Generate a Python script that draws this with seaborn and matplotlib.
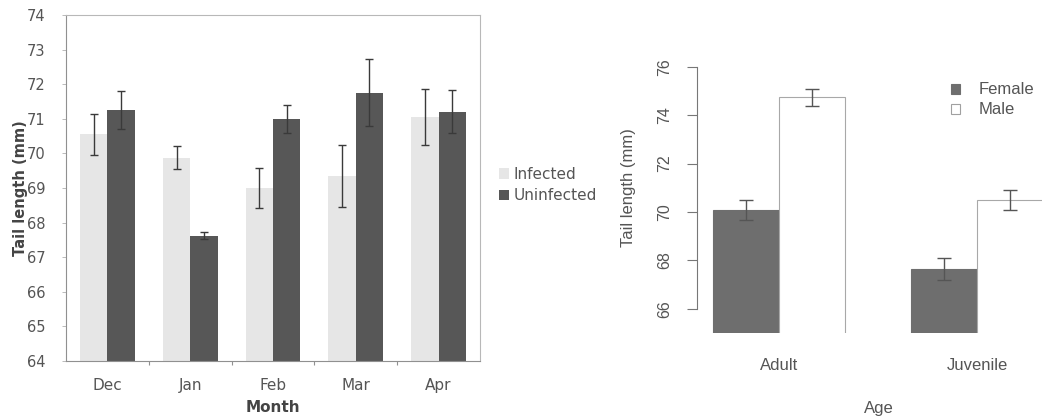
import matplotlib
matplotlib.use("Agg")
import matplotlib.pyplot as plt
import seaborn as sns
import pandas as pd
from matplotlib.patches import Patch

# ---- data: tail length by month and infection status ----
months = ["Dec", "Jan", "Feb", "Mar", "Apr"]
infected_mean = [70.55, 69.87, 69.00, 69.35, 71.05]
infected_err = [0.60, 0.33, 0.57, 0.90, 0.80]
uninfected_mean = [71.25, 67.62, 71.00, 71.75, 71.20]
uninfected_err = [0.55, 0.10, 0.40, 0.97, 0.62]
status_levels = ["Infected", "Uninfected"]

# ---- data: tail length by age and sex ----
ages = ["Adult", "Juvenile"]
female_mean = [70.08, 67.64]
female_err = [0.43, 0.44]
male_mean = [74.74, 70.49]
male_err = [0.35, 0.41]
sex_levels = ["Female", "Male"]

month_df = pd.DataFrame({
    "Month": months * 2,
    "Status": [status_levels[0]] * len(months) + [status_levels[1]] * len(months),
    "Tail": infected_mean + uninfected_mean,
    "Err": infected_err + uninfected_err,
})
age_df = pd.DataFrame({
    "Age": ages * 2,
    "Sex": [sex_levels[0]] * len(ages) + [sex_levels[1]] * len(ages),
    "Tail": female_mean + male_mean,
    "Err": female_err + male_err,
})

W, H = 1042, 416
sns.set_style("white")
fig = plt.figure(figsize=(W / 100, H / 100), dpi=100)


def px_axes(left, top, right, bottom):
    return fig.add_axes([left / W, 1 - bottom / H, (right - left) / W, (bottom - top) / H])


def add_errorbars(ax, df, hue_col, hue_levels, color, capsize):
    for container, level in zip(ax.containers, hue_levels):
        errs = df.loc[df[hue_col] == level, "Err"].tolist()
        xs = [b.get_x() + b.get_width() / 2 for b in container]
        ys = [b.get_height() for b in container]
        ax.errorbar(xs, ys, yerr=errs, fmt="none", ecolor=color,
                    elinewidth=1.0, capsize=capsize, capthick=1.0, zorder=5)


# ================= left panel (months) =================
axL = px_axes(66, 15, 480, 361)
month_colors = {"Infected": "#e6e6e6", "Uninfected": "#575757"}
sns.barplot(data=month_df, x="Month", y="Tail", hue="Status", order=months,
            hue_order=status_levels, palette=month_colors, width=0.66,
            errorbar=None, linewidth=0, legend=False, ax=axL)
add_errorbars(axL, month_df, "Status", status_levels, "#3a3a3a", 3.2)

axL.set_ylim(64, 74)
axL.set_xlim(-0.5, len(months) - 0.5)
axL.set_yticks(range(64, 75))
for s in axL.spines.values():
    s.set_visible(True)
    s.set_color("#b8b8b8")
    s.set_linewidth(0.8)
axL.spines["bottom"].set_color("#909090")
axL.spines["left"].set_color("#909090")
axL.tick_params(axis="y", left=True, length=3, width=0.6, color="#b0b0b0",
                direction="out", pad=12, labelsize=10.5, labelcolor="#555555")
axL.tick_params(axis="x", which="major", bottom=False, length=0, pad=12,
                labelsize=11, labelcolor="#555555")
axL.set_xticks([i + 0.5 for i in range(len(months) - 1)], minor=True)
axL.tick_params(axis="x", which="minor", bottom=True, length=3, width=0.8,
                color="#909090", direction="out")
axL.set_xlabel("Month", fontsize=11, fontweight="bold", color="#444444")
axL.xaxis.set_label_coords(0.5, -(407 - 361) / 346)
axL.xaxis.label.set_verticalalignment("center")
axL.set_ylabel("Tail length (mm)", fontsize=10.5, fontweight="bold", color="#444444")
axL.yaxis.set_label_coords(-(66 - 20) / 414, 0.5)
axL.yaxis.label.set_verticalalignment("center")

handlesL = [Patch(facecolor=month_colors[k], edgecolor="none") for k in status_levels]
axL.legend(handlesL, status_levels, loc="center left",
           bbox_to_anchor=(485 / W, 1 - 185 / H), bbox_transform=fig.transFigure,
           frameon=False, fontsize=11, handlelength=0.66, handleheight=0.66,
           handletextpad=0.3, labelspacing=0.4, labelcolor="#555555")

# ================= right panel (age and sex) =================
axR = px_axes(697, 42.5, 1042, 333)
age_colors = {"Female": "#6e6e6e", "Male": "#ffffff"}
sns.barplot(data=age_df, x="Age", y="Tail", hue="Sex", order=ages,
            hue_order=sex_levels, palette=age_colors, width=0.667,
            errorbar=None, legend=False, ax=axR)
for container, level in zip(axR.containers, sex_levels):
    for bar in container:
        bar.set_edgecolor("#6e6e6e" if level == "Female" else "#a8a8a8")
        bar.set_linewidth(0.8)
add_errorbars(axR, age_df, "Sex", sex_levels, "#555555", 5)

axR.set_ylim(65, 77)
axR.set_xlim(-(779 - 697) / 198, 1 + (1042 - 977) / 198)
axR.set_yticks(range(66, 77, 2))
for side in ["top", "right", "bottom"]:
    axR.spines[side].set_visible(False)
axR.spines["left"].set_bounds(66, 76)
axR.spines["left"].set_color("#777777")
axR.spines["left"].set_linewidth(0.8)
axR.tick_params(axis="y", left=True, direction="out", length=7, width=0.8,
                color="#777777", pad=11, labelsize=11.5, labelcolor="#555555",
                labelrotation=90)
for lbl in axR.get_yticklabels():
    lbl.set_fontfamily("Liberation Sans")
    lbl.set_verticalalignment("center")
axR.tick_params(axis="x", bottom=False, length=0, pad=18, labelsize=12,
                labelcolor="#555555")
for lbl in axR.get_xticklabels():
    lbl.set_fontfamily("Liberation Sans")
axR.set_xlabel("Age", fontsize=12, color="#555555", family="Liberation Sans")
axR.xaxis.set_label_coords((879 - 697) / 345, -(408 - 333) / 290.5)
axR.xaxis.label.set_verticalalignment("center")
axR.set_ylabel("Tail length (mm)", fontsize=12, color="#555555", family="Liberation Sans")
axR.yaxis.set_label_coords(-(697 - 628) / 345, (333 - 188) / 290.5)
axR.yaxis.label.set_verticalalignment("center")

handlesR = [Patch(facecolor=age_colors["Female"], edgecolor="#6e6e6e", linewidth=0.8),
            Patch(facecolor=age_colors["Male"], edgecolor="#a0a0a0", linewidth=0.8)]
axR.legend(handlesR, sex_levels, loc="center left",
           bbox_to_anchor=(936 / W, 1 - 100 / H), bbox_transform=fig.transFigure,
           frameon=False, prop={"family": "Liberation Sans", "size": 12},
           handlelength=0.55, handleheight=0.55, handletextpad=1.1,
           labelspacing=0.3, labelcolor="#555555")

fig.savefig("out.png", dpi=100)
